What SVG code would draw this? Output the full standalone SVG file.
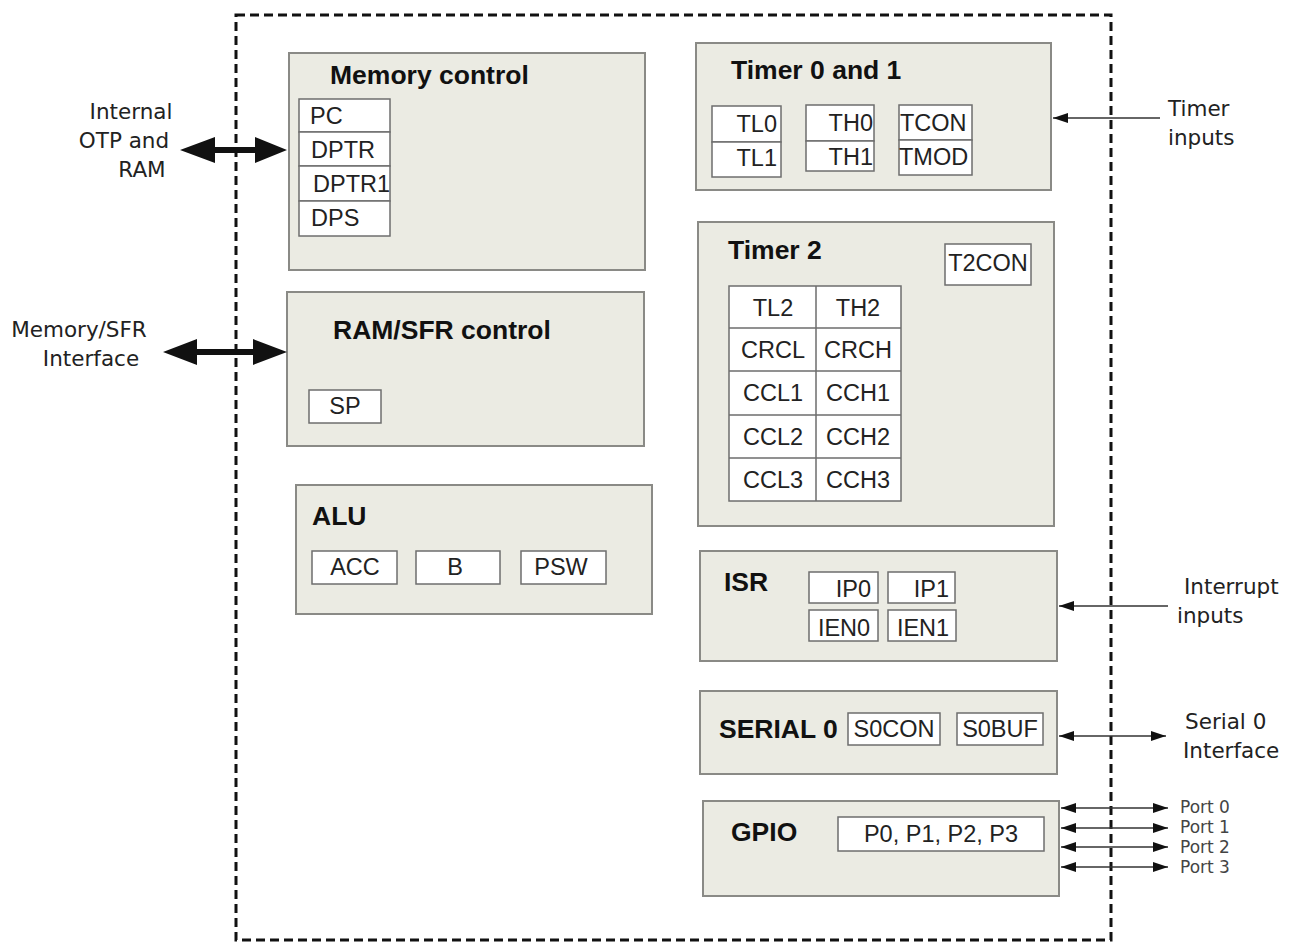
<svg xmlns="http://www.w3.org/2000/svg" width="1290" height="943" viewBox="0 0 1290 943">
<defs>
<style>
.blk{fill:#ebebe3;stroke:#8a8a86;stroke-width:2}
.reg{fill:#ffffff;stroke:#6e6e6e;stroke-width:1.5}
.ttl{font-family:"Liberation Sans",Arial,sans-serif;font-weight:bold;font-size:26.5px;fill:#111}
.rt{font-family:"Liberation Sans",Arial,sans-serif;font-size:23.5px;fill:#222}
.ext{font-family:"DejaVu Sans",Verdana,sans-serif;font-size:21.5px;fill:#222}
.port{font-family:"DejaVu Sans",Verdana,sans-serif;font-size:17px;fill:#444}
.thin{stroke:#333;stroke-width:1.5;fill:none}
.bound{fill:none;stroke:#111;stroke-width:3;stroke-dasharray:9 5}
</style>
<marker id="ah" viewBox="0 0 15 10" refX="15" refY="5" markerWidth="15" markerHeight="10" markerUnits="userSpaceOnUse" orient="auto-start-reverse">
<path d="M0,0 L15,5 L0,10 z" fill="#111"/>
</marker>
</defs>
<rect width="1290" height="943" fill="#ffffff"/>

<g id="boundary">
<rect class="bound" x="236" y="15" width="875" height="925"/>
</g>

<g id="memory-control">
<rect class="blk" x="289" y="53" width="356" height="217"/>
<text class="ttl" x="330" y="84">Memory control</text>
<rect class="reg" x="299" y="99" width="91" height="33"/>
<rect class="reg" x="299" y="132" width="91" height="34"/>
<rect class="reg" x="299" y="166" width="91" height="35"/>
<rect class="reg" x="299" y="201" width="91" height="35"/>
<text class="rt" x="310" y="124">PC</text>
<text class="rt" x="311" y="158">DPTR</text>
<text class="rt" x="313" y="192">DPTR1</text>
<text class="rt" x="311" y="226">DPS</text>
</g>

<g id="ram-sfr-control">
<rect class="blk" x="287" y="292" width="357" height="154"/>
<text class="ttl" x="333" y="339">RAM/SFR control</text>
<rect class="reg" x="309" y="390" width="72" height="33"/>
<text class="rt" x="345" y="414" text-anchor="middle">SP</text>
</g>

<g id="alu">
<rect class="blk" x="296" y="485" width="356" height="129"/>
<text class="ttl" x="312" y="525">ALU</text>
<rect class="reg" x="312" y="551" width="85" height="33"/>
<rect class="reg" x="416" y="551" width="84" height="33"/>
<rect class="reg" x="521" y="551" width="85" height="33"/>
<text class="rt" x="355" y="575" text-anchor="middle">ACC</text>
<text class="rt" x="455" y="575" text-anchor="middle">B</text>
<text class="rt" x="561" y="575" text-anchor="middle">PSW</text>
</g>

<g id="timer01">
<rect class="blk" x="696" y="43" width="355" height="147"/>
<text class="ttl" x="731" y="79">Timer 0 and 1</text>
<rect class="reg" x="712" y="106" width="69" height="36"/>
<rect class="reg" x="712" y="142" width="69" height="35"/>
<rect class="reg" x="806" y="105" width="68" height="36"/>
<rect class="reg" x="806" y="141" width="68" height="30"/>
<rect class="reg" x="899" y="105" width="73" height="35"/>
<rect class="reg" x="899" y="140" width="73" height="35"/>
<text class="rt" x="777" y="132" text-anchor="end">TL0</text>
<text class="rt" x="777" y="166" text-anchor="end">TL1</text>
<text class="rt" x="873" y="131" text-anchor="end">TH0</text>
<text class="rt" x="873" y="165" text-anchor="end">TH1</text>
<text class="rt" x="900" y="131">TCON</text>
<text class="rt" x="899" y="165">TMOD</text>
</g>

<g id="timer2">
<rect class="blk" x="698" y="222" width="356" height="304"/>
<text class="ttl" x="728" y="259">Timer 2</text>
<rect class="reg" x="945" y="244" width="86" height="41"/>
<text class="rt" x="988" y="271" text-anchor="middle">T2CON</text>
<rect class="reg" x="729" y="286" width="172" height="215"/>
<path d="M816,286 V501 M729,328 H901 M729,371 H901 M729,415 H901 M729,458 H901" stroke="#6e6e6e" stroke-width="1.5" fill="none"/>
<g class="rt" text-anchor="middle">
<text x="773" y="316">TL2</text><text x="858" y="316">TH2</text>
<text x="773" y="358">CRCL</text><text x="858" y="358">CRCH</text>
<text x="773" y="401">CCL1</text><text x="858" y="401">CCH1</text>
<text x="773" y="445">CCL2</text><text x="858" y="445">CCH2</text>
<text x="773" y="488">CCL3</text><text x="858" y="488">CCH3</text>
</g>
</g>

<g id="isr">
<rect class="blk" x="700" y="551" width="357" height="110"/>
<text class="ttl" x="724" y="591">ISR</text>
<rect class="reg" x="809" y="572" width="69" height="31"/>
<rect class="reg" x="888" y="572" width="67" height="31"/>
<rect class="reg" x="809" y="610" width="69" height="31"/>
<rect class="reg" x="888" y="610" width="68" height="31"/>
<text class="rt" x="871" y="597" text-anchor="end">IP0</text>
<text class="rt" x="949" y="597" text-anchor="end">IP1</text>
<text class="rt" x="844" y="636" text-anchor="middle">IEN0</text>
<text class="rt" x="923" y="636" text-anchor="middle">IEN1</text>
</g>

<g id="serial0">
<rect class="blk" x="700" y="691" width="357" height="83"/>
<text class="ttl" x="719" y="738">SERIAL 0</text>
<rect class="reg" x="848" y="713" width="92" height="32"/>
<rect class="reg" x="957" y="713" width="86" height="32"/>
<text class="rt" x="894" y="737" text-anchor="middle">S0CON</text>
<text class="rt" x="1000" y="737" text-anchor="middle">S0BUF</text>
</g>

<g id="gpio">
<rect class="blk" x="703" y="801" width="356" height="95"/>
<text class="ttl" x="731" y="841">GPIO</text>
<rect class="reg" x="838" y="817" width="206" height="34"/>
<text class="rt" x="941" y="842" text-anchor="middle">P0, P1, P2, P3</text>
</g>

<g id="connectors">
<path d="M180,150 L215,137 L215,147 L255,147 L255,137 L287,150 L255,163 L255,153 L215,153 L215,163 Z" fill="#111"/>
<path d="M163,352 L197,339 L197,349 L253,349 L253,339 L287,352 L253,365 L253,355 L197,355 L197,365 Z" fill="#111"/>
<line class="thin" x1="1160" y1="118" x2="1053" y2="118" marker-end="url(#ah)"/>
<line class="thin" x1="1168" y1="606" x2="1059" y2="606" marker-end="url(#ah)"/>
<line class="thin" x1="1059" y1="736" x2="1166" y2="736" marker-start="url(#ah)" marker-end="url(#ah)"/>
<line class="thin" x1="1061" y1="808" x2="1168" y2="808" marker-start="url(#ah)" marker-end="url(#ah)"/>
<line class="thin" x1="1061" y1="828" x2="1168" y2="828" marker-start="url(#ah)" marker-end="url(#ah)"/>
<line class="thin" x1="1061" y1="847" x2="1168" y2="847" marker-start="url(#ah)" marker-end="url(#ah)"/>
<line class="thin" x1="1061" y1="867" x2="1168" y2="867" marker-start="url(#ah)" marker-end="url(#ah)"/>
</g>

<g id="labels">
<text class="ext" x="131" y="119" text-anchor="middle">Internal</text>
<text class="ext" x="124" y="148" text-anchor="middle">OTP and</text>
<text class="ext" x="142" y="177" text-anchor="middle">RAM</text>
<text class="ext" x="79" y="337" text-anchor="middle">Memory/SFR</text>
<text class="ext" x="91" y="366" text-anchor="middle">Interface</text>
<text class="ext" x="1168" y="116">Timer</text>
<text class="ext" x="1168" y="145">inputs</text>
<text class="ext" x="1184" y="594">Interrupt</text>
<text class="ext" x="1177" y="623">inputs</text>
<text class="ext" x="1185" y="729">Serial 0</text>
<text class="ext" x="1183" y="758">Interface</text>
<text class="port" x="1180" y="813">Port 0</text>
<text class="port" x="1180" y="833">Port 1</text>
<text class="port" x="1180" y="853">Port 2</text>
<text class="port" x="1180" y="873">Port 3</text>
</g>
</svg>
